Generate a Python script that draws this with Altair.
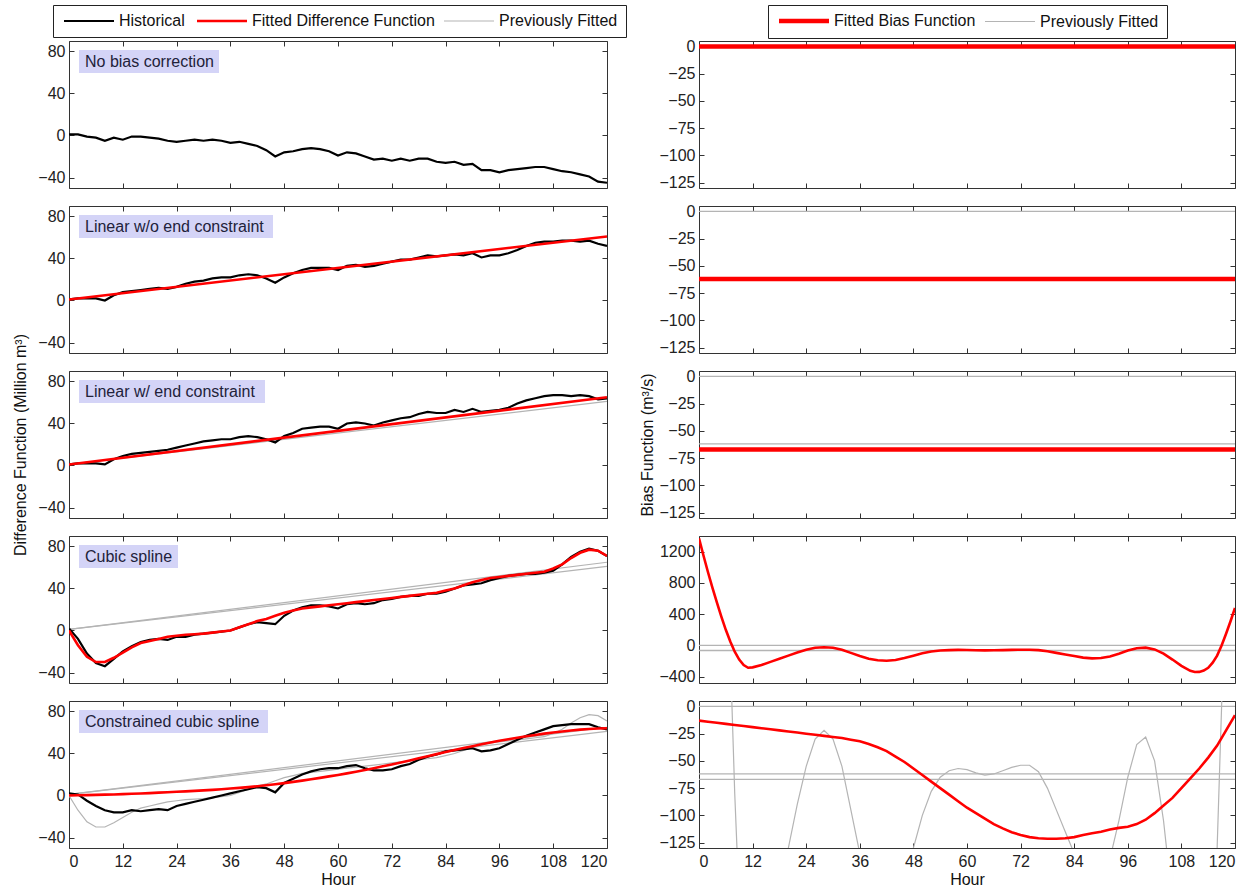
import altair as alt
import pandas as pd

# ---------------- data ----------------
HOURS = list(range(0, 121, 2))

HIST_NO_BIAS = [1, 1, -1, -2, -5, -2, -4, -1, -1, -2, -3, -5, -6, -5, -4, -5, -4, -5, -7, -6,
                -8, -10, -14, -20, -16, -15, -13, -12, -13, -15, -19, -16, -17, -20, -23, -22,
                -24, -22, -24, -22, -22, -25, -26, -25, -28, -27, -33, -33, -35, -33, -32, -31,
                -30, -30, -32, -34, -35, -37, -39, -44, -45]
HIST_LINEAR_FREE = [1, 2, 2, 2, 0, 5, 8, 9, 10, 11, 12, 11, 13, 16, 18, 19, 21, 22, 22, 24, 25,
                    24, 21, 17, 22, 26, 29, 31, 31, 31, 29, 33, 34, 32, 33, 35, 37, 39, 39, 41,
                    43, 42, 43, 44, 43, 45, 41, 43, 43, 45, 48, 52, 55, 56, 56, 57, 57, 56, 57,
                    54, 52]
HIST_LINEAR_END = [1, 2, 2, 2, 1, 6, 9, 11, 12, 13, 14, 15, 17, 19, 21, 23, 24, 25, 25, 27, 28,
                   27, 25, 22, 28, 31, 35, 36, 37, 37, 35, 40, 41, 40, 38, 41, 43, 45, 46, 49,
                   51, 50, 50, 53, 51, 54, 51, 52, 53, 55, 59, 62, 64, 66, 67, 67, 66, 67, 66,
                   63, 64]
HIST_CUBIC = [2, -8, -22, -31, -34, -27, -20, -15, -11, -9, -8, -9, -6, -6, -4, -3, -2, -1, 0,
              3, 6, 8, 7, 6, 14, 19, 22, 24, 24, 23, 21, 25, 26, 25, 26, 29, 30, 32, 33, 33, 35,
              35, 37, 40, 43, 44, 45, 48, 50, 52, 53, 54, 54, 55, 57, 63, 70, 75, 78, 76, 71]
HIST_CONSTRAINED = [2, 1, -5, -10, -14, -16, -16, -14, -15, -14, -13, -14, -10, -8, -6, -4, -2,
                    0, 2, 4, 6, 8, 7, 3, 12, 16, 20, 23, 25, 26, 26, 28, 29, 26, 24, 24, 25, 28,
                    30, 34, 37, 39, 42, 43, 44, 45, 42, 43, 45, 49, 53, 57, 60, 63, 66, 67, 68,
                    68, 68, 65, 63]

LINE_HOURS = [0, 120]
DIFF_LINEAR_FREE = [1, 61]
DIFF_LINEAR_END = [1, 65]
DIFF_CUBIC = [0, -14, -25, -30, -30, -26, -21, -16, -12, -10, -8, -6, -5, -4, -3.5, -3, -2, -1,
              0, 3, 6, 9, 11, 14, 17, 19, 21, 22, 23, 24, 25, 26, 27, 28, 29, 30, 31, 32, 33, 34,
              35, 36, 38, 40, 43, 46, 48, 50, 51, 52, 53, 54, 55, 56, 59, 63, 69, 74, 77, 76, 71]
DIFF_CONSTRAINED = [0, 0.2, 0.4, 0.6, 0.8, 1, 1.3, 1.6, 1.9, 2.3, 2.7, 3.1, 3.5, 3.9, 4.4, 4.9,
                    5.4, 6, 6.6, 7.3, 8, 8.8, 9.7, 10.7, 11.8, 13, 14.2, 15.5, 16.8, 18.2, 19.6,
                    21.1, 22.7, 24.3, 26, 27.8, 29.6, 31.5, 33.4, 35.4, 37.4, 39.4, 41.4, 43.3,
                    45.2, 47, 48.8, 50.5, 52.1, 53.6, 55, 56.4, 57.7, 58.9, 60, 61, 61.9, 62.7,
                    63.3, 63.8, 64]

BIAS_NONE = [0, 0]
BIAS_LINEAR_FREE = [-62, -62]
BIAS_LINEAR_END = [-67, -67]
SPLINE_HOURS = [0, 1, 2, 3, 4, 5, 6, 7, 8, 9, 10, 11, 12, 14, 16, 18, 20, 22, 24, 26, 28, 30,
                32, 34, 36, 38, 40, 42, 44, 46, 48, 50, 52, 54, 56, 58, 60, 62, 64, 66, 68, 70,
                72, 74, 76, 78, 80, 82, 84, 86, 88, 90, 92, 94, 96, 98, 100, 102, 104, 106, 108,
                110, 111, 112, 113, 114, 115, 116, 117, 118, 119, 120]
BIAS_CUBIC = [1370, 1150, 940, 740, 550, 370, 200, 50, -80, -180, -250, -285, -280, -250, -210,
              -170, -130, -90, -55, -30, -22, -30, -55, -95, -135, -170, -190, -195, -185, -160,
              -130, -100, -78, -65, -59, -57, -58, -61, -63, -62, -59, -56, -54, -54, -60, -75,
              -95, -115, -135, -155, -165, -160, -140, -105, -65, -35, -28, -50, -105, -180,
              -260, -325, -340, -338, -320, -285, -220, -130, 0, 150, 310, 480]
BIAS_CONSTRAINED = [-13, -14, -15, -16, -17, -18, -19, -20, -21, -22, -23, -24, -25, -26, -27,
                    -28, -29, -30.5, -32, -34.5, -37.5, -41, -46, -51, -57, -63, -69, -75, -81,
                    -87, -93, -98, -103, -108, -112, -115.5, -118, -120, -121, -121.5, -121.5,
                    -121, -120, -118, -116.5, -115, -113, -111.5, -110.5, -108, -104, -98, -91,
                    -84, -75, -66, -57, -47, -36, -22, -8]

PANEL_LABELS = ["No bias correction", "Linear w/o end constraint", "Linear w/ end constraint",
                "Cubic spline", "Constrained cubic spline"]
LEFT_SERIES = ["Historical", "Fitted Difference Function", "Previously Fitted"]
RIGHT_SERIES = ["Fitted Bias Function", "Previously Fitted"]
X_TICKS = list(range(0, 121, 12))
LEFT_Y_TICKS = [-40, 0, 40, 80]
RIGHT_Y_TICKS = [0, -25, -50, -75, -100, -125]
SPLINE_Y_TICKS = [-400, 0, 400, 800, 1200]

# ---------------- styling ----------------
FONT = "Liberation Sans"
W_LEFT, W_RIGHT, H = 538, 536, 147
RED, BLACK, GRAY = "#ff0000", "#000000", "#b4b4b4"
LABEL_BOX_W = [140, 194, 186, 99, 189]
LAV = "#d4d4f7"

H_PREV, H_HIST, H_FIT = LEFT_SERIES[2], LEFT_SERIES[0], LEFT_SERIES[1]
B_FIT, B_PREV = RIGHT_SERIES


def make_df(curves):
    rows = []
    for cid, (series, xs, ys) in enumerate(curves):
        for x, y in zip(xs, ys):
            rows.append({"hour": x, "value": y, "series": series, "curve": cid})
    return pd.DataFrame(rows)


LEFT_CURVES = [
    [(H_HIST, HOURS, HIST_NO_BIAS)],
    [(H_HIST, HOURS, HIST_LINEAR_FREE), (H_FIT, LINE_HOURS, DIFF_LINEAR_FREE)],
    [(H_PREV, LINE_HOURS, DIFF_LINEAR_FREE), (H_HIST, HOURS, HIST_LINEAR_END),
     (H_FIT, LINE_HOURS, DIFF_LINEAR_END)],
    [(H_PREV, LINE_HOURS, DIFF_LINEAR_FREE), (H_PREV, LINE_HOURS, DIFF_LINEAR_END),
     (H_HIST, HOURS, HIST_CUBIC), (H_FIT, HOURS, DIFF_CUBIC)],
    [(H_PREV, LINE_HOURS, DIFF_LINEAR_FREE), (H_PREV, LINE_HOURS, DIFF_LINEAR_END),
     (H_PREV, HOURS, DIFF_CUBIC), (H_HIST, HOURS, HIST_CONSTRAINED),
     (H_FIT, HOURS, DIFF_CONSTRAINED)],
]
RIGHT_CURVES = [
    [(B_FIT, LINE_HOURS, BIAS_NONE)],
    [(B_PREV, LINE_HOURS, BIAS_NONE), (B_FIT, LINE_HOURS, BIAS_LINEAR_FREE)],
    [(B_PREV, LINE_HOURS, BIAS_NONE), (B_PREV, LINE_HOURS, BIAS_LINEAR_FREE),
     (B_FIT, LINE_HOURS, BIAS_LINEAR_END)],
    [(B_PREV, LINE_HOURS, BIAS_NONE), (B_PREV, LINE_HOURS, BIAS_LINEAR_FREE),
     (B_PREV, LINE_HOURS, BIAS_LINEAR_END), (B_FIT, SPLINE_HOURS, BIAS_CUBIC)],
    [(B_PREV, LINE_HOURS, BIAS_NONE), (B_PREV, LINE_HOURS, BIAS_LINEAR_FREE),
     (B_PREV, LINE_HOURS, BIAS_LINEAR_END), (B_PREV, SPLINE_HOURS, BIAS_CUBIC),
     (B_FIT, HOURS, BIAS_CONSTRAINED)],
]


def axis_sets(last, ytitle, yvals, W, title_pad):
    common = dict(grid=False, domain=False, tickColor="#333")
    lab_x = alt.Axis(orient="bottom", values=X_TICKS, labels=last, ticks=False,
                     title="Hour" if last else None, labelPadding=5, titlePadding=2,
                     labelFontSize=16, titleFontSize=16, **common)
    lab_y = alt.Axis(orient="left", values=yvals, ticks=False, labelPadding=4, format="d",
                     titlePadding=title_pad, labelFontSize=16, titleFontSize=16,
                     title=ytitle, **common)
    tick_a_x = alt.Axis(orient="top", offset=-H, values=X_TICKS, labels=False, ticks=True,
                        tickSize=5, title=None, **common)
    tick_a_y = alt.Axis(orient="right", offset=-W, values=yvals, labels=False, ticks=True,
                        tickSize=5, title=None, **common)
    tick_b_x = alt.Axis(orient="bottom", offset=-H, values=X_TICKS, labels=False, ticks=True,
                        tickSize=5, title=None, **common)
    tick_b_y = alt.Axis(orient="left", offset=-W, values=yvals, labels=False, ticks=True,
                        tickSize=5, title=None, **common)
    return [(lab_x, lab_y), (tick_a_x, tick_a_y), (tick_b_x, tick_b_y)]


def panel(df, layer_series, domain, colors, widths, ydomain, yvals, W, last, ytitle,
          legend, title_pad, label=None, label_w=None):
    xs = alt.Scale(domain=[0, 120], nice=False, zero=False)
    ys = alt.Scale(domain=ydomain, nice=False, zero=False)
    cs = alt.Scale(domain=domain, range=colors)
    ws = alt.Scale(type="ordinal", domain=domain, range=widths)
    axes = axis_sets(last, ytitle, yvals, W, title_pad)
    layers = []
    for s, (ax, ay) in zip(layer_series, axes):
        layers.append(
            alt.Chart().mark_line(clip=True).encode(
                x=alt.X("hour:Q", scale=xs, axis=ax),
                y=alt.Y("value:Q", scale=ys, axis=ay),
                color=alt.Color("series:N", scale=cs, legend=legend),
                strokeWidth=alt.StrokeWidth("series:N", scale=ws, legend=legend),
                detail="curve:N",
            ).transform_filter(alt.datum.series == s)
        )
    ch = alt.layer(*layers, data=df)
    if label is not None:
        ldf = pd.DataFrame({"label": [label]})
        box = alt.Chart(ldf).mark_rect(color=LAV).encode(
            x=alt.value(10), x2=alt.value(10 + label_w), y=alt.value(9), y2=alt.value(32))
        txt = alt.Chart(ldf).mark_text(align="left", baseline="middle", fontSize=16,
                                       font=FONT, color="#22223a").encode(
            x=alt.value(16), y=alt.value(21), text="label:N")
        ch = alt.layer(ch, box, txt)
    return ch.resolve_axis(x="independent", y="independent").properties(width=W, height=H)


def make_legend(x, y):
    # long, flat line symbol: path on a 2x2 grid scaled by sqrt(size)/2
    return alt.Legend(title=None, orient="none", legendX=x, legendY=y, direction="horizontal",
                      strokeColor="#222", fillColor="white", padding=8, cornerRadius=0,
                      symbolType="M-1,0H9", symbolSize=100, labelFont=FONT,
                      labelFontSize=16, labelColor="#111", labelOffset=42, columnPadding=6,
                      labelLimit=0)


left_rows, right_rows = [], []
for i in range(5):
    last = i == 4
    leg = make_legend(-16, -36) if i == 0 else None
    left_rows.append(panel(
        make_df(LEFT_CURVES[i]), [H_PREV, H_HIST, H_FIT], LEFT_SERIES, [BLACK, RED, GRAY],
        [2.2, 2.6, 1.2], [-50, 90], LEFT_Y_TICKS, W_LEFT, last,
        "Difference Function (Million m³)" if i == 2 else None, leg, 9,
        label=PANEL_LABELS[i], label_w=LABEL_BOX_W[i]))
    rleg = make_legend(69, -36) if i == 0 else None
    thick = 4.5 if i < 3 else 2.6
    right_rows.append(panel(
        make_df(RIGHT_CURVES[i]), [B_PREV, "none", B_FIT], RIGHT_SERIES, [RED, GRAY],
        [thick, 1.2], [-480, 1400] if i == 3 else [-130, 5],
        SPLINE_Y_TICKS if i == 3 else RIGHT_Y_TICKS, W_RIGHT, last,
        "Bias Function (m³/s)" if i == 2 else None, rleg, 3))

res = dict(color="independent", strokeWidth="independent", x="independent", y="independent")
left_col = alt.vconcat(*left_rows, spacing=18, bounds="flush").resolve_scale(**res)
right_col = alt.vconcat(*right_rows, spacing=18, bounds="flush").resolve_scale(**res)

chart = alt.hconcat(left_col, right_col, spacing=12).resolve_scale(**res).properties(
    padding={"left": 12, "top": 4, "right": 5, "bottom": 5}
).configure(font=FONT).configure_view(stroke="#333", strokeWidth=1).configure_axis(
    labelFont=FONT, titleFont=FONT, labelColor="#222", titleColor="#111",
    titleFontWeight="normal")

chart.save("out.html", embed_options={"renderer": "svg", "actions": False})
